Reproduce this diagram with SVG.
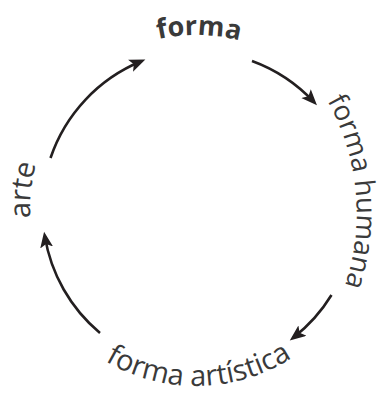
<svg xmlns="http://www.w3.org/2000/svg" xmlns:xlink="http://www.w3.org/1999/xlink" width="385" height="394" viewBox="0 0 385 394">
  <style>
    .lbl { font-family: "Open Sans", "Noto Sans", sans-serif; font-size: 29px; fill: #3a3a3a; }
    .bold { font-weight: 700; font-size: 27px; }
    .side { font-size: 27.5px; }
    .arr { fill: none; stroke: #231f20; stroke-width: 2.6; marker-end: url(#head); }
  </style>
  <defs>
    <marker id="head" markerUnits="userSpaceOnUse" markerWidth="17" markerHeight="14" refX="11.5" refY="6.5" orient="auto">
      <path d="M0,0 L16,6.5 L0,13 L3.5,6.5 z" fill="#231f20"/>
    </marker>
    <path id="pTop" d="M47.7,118.9 A173,173 0 0 1 347.3,124.1"/>
    <path id="pLeft" d="M98.4,342.3 A166,166 0 0 1 128.5,56.4"/>
    <path id="pRight" d="M221.4,3.1 A231,231 0 0 1 259.5,401.5"/>
    <path id="pBottom" d="M43.4,299.5 A178,178 0 0 0 351.7,294.3"/>
  </defs>
  <rect width="385" height="394" fill="#ffffff"/>
  <g id="connectors">
    <path class="arr" d="M50.5,158 A160,160 0 0 1 141.2,61.3"/>
    <path class="arr" d="M252,61 A160,160 0 0 1 313.9,102"/>
    <path class="arr" d="M331.5,295 A160,160 0 0 1 293.3,337.7"/>
    <path class="arr" d="M100,333 A160,160 0 0 1 44.8,236.1"/>
  </g>
  <g id="node-forma">
    <text class="lbl bold"><textPath href="#pTop" xlink:href="#pTop" startOffset="50%" text-anchor="middle">forma</textPath></text>
  </g>
  <g id="node-forma-humana">
    <text class="lbl side"><textPath href="#pRight" xlink:href="#pRight" startOffset="50%" text-anchor="middle">forma humana</textPath></text>
  </g>
  <g id="node-forma-artistica">
    <text class="lbl"><textPath href="#pBottom" xlink:href="#pBottom" startOffset="50%" text-anchor="middle">forma artística</textPath></text>
  </g>
  <g id="node-arte">
    <text class="lbl"><textPath href="#pLeft" xlink:href="#pLeft" startOffset="50%" text-anchor="middle">arte</textPath></text>
  </g>
</svg>
